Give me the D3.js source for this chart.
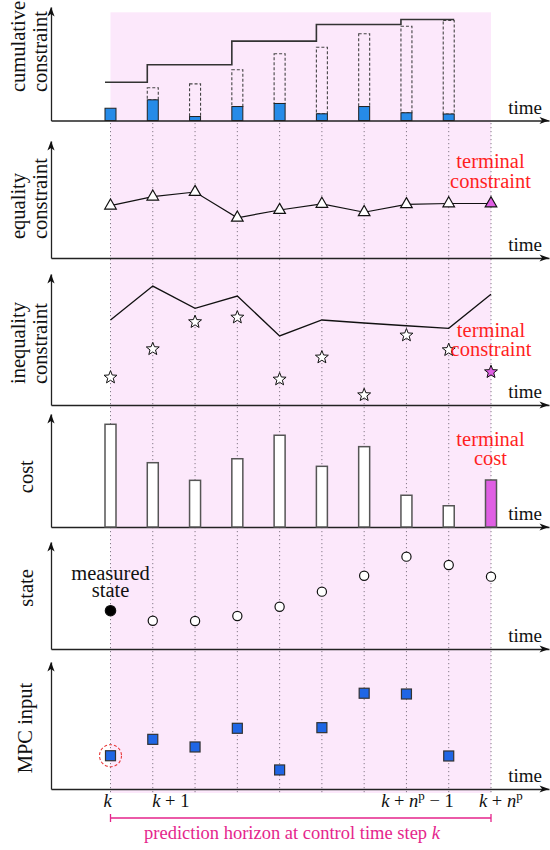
<!DOCTYPE html>
<html>
<head>
<meta charset="utf-8">
<script src="https://cdn.jsdelivr.net/npm/d3@7"></script>
<style>
body { margin: 0; background: #fff; }
text { font-family: "Liberation Serif", "DejaVu Serif", serif; fill: #111; }
</style>
</head>
<body>
<svg width="550" height="850"></svg>
<script>
// time steps k ... k + n^p
var steps = [0, 1, 2, 3, 4, 5, 6, 7, 8, 9];

// cumulative constraint panel (steps 0..8)
var usage = [10.8, 18.2, 3.5, 12.3, 15.0, 5.9, 12.3, 6.8, 5.7];
var usageTotal = [10.8, 28.8, 32.3, 44.7, 58.8, 64.6, 76.4, 83.1, 88.1];
var limitStart = [0, 1, 3, 5, 7];
var limitLevel = [33.7, 49.1, 69.9, 84.6, 89.0];

var equality = [44.7, 52.4, 56.4, 34.4, 41.0, 46.2, 39.1, 45.9, 46.6, 46.6];
var ineqBound = [64.9, 90.8, 73.8, 83.2, 52.7, 64.9, 62.6, 60.5, 58.5, 84.5];
var ineqValue = [21.1, 42.7, 63.4, 66.9, 19.6, 36.4, 7.6, 53.2, 42.0, 25.2];
var cost = [90.9, 56.9, 41.3, 60.4, 81.2, 53.7, 71.1, 28.1, 18.8, 41.6];
var state = [35.8, 26.4, 26.2, 30.8, 39.5, 53.6, 68.5, 86.3, 78.5, 67.6];
var mpcInput = [26.2, 39.1, 33.1, 47.8, 15.0, 48.3, 75.4, 74.8, 26.0];

var yLabels = [['cumulative', 'constraint'], ['equality', 'constraint'], ['inequality', 'constraint'],
               ['cost'], ['state'], ['MPC input']];
var tickLabels = ['k', 'k + 1', 'k + n^p \u2212 1', 'k + n^p'];
var tickSteps = [0, 1, 8, 9];
var horizonText = 'prediction horizon at control time step ';

var svg = d3.select('svg');

var panels = [
    {axis: 120.5, tip: 7},
    {axis: 258, tip: 141},
    {axis: 405, tip: 274},
    {axis: 527, tip: 414},
    {axis: 649, tip: 542},
    {axis: 789, tip: 662}
];

var x = d3.scaleLinear().domain([0, 9]).range([110.5, 491]);
var xAxisScale = d3.scaleLinear().domain([0, 1]).range([51, 549]);
var yScales = panels.map(function(p) {
    return d3.scaleLinear().domain([0, 100]).range([p.axis, p.tip]);
});

var barW = 11;
var pink = '#fce8fb', magenta = '#df5fe3', blue = '#268be8', red = '#ff1f1f';

// horizon band and step guides
svg.append('rect')
    .attr('x', x(0)).attr('y', 12.3)
    .attr('width', x(9) - x(0)).attr('height', 793 - 12.3)
    .attr('fill', pink);

svg.selectAll('.guide')
    .data(steps)
    .enter()
    .append('line')
    .attr('class', 'guide')
    .attr('x1', function(d) { return x(d); })
    .attr('x2', function(d) { return x(d); })
    .attr('y1', 123).attr('y2', 793)
    .attr('stroke', '#857a88')
    .attr('stroke-width', 1)
    .attr('stroke-dasharray', '1.2,2.8');

// axes with arrow heads
panels.forEach(function(p, i) {
    var g = svg.append('g');
    g.append('g')
        .attr('transform', 'translate(51,0)')
        .call(d3.axisLeft(yScales[i]).tickValues([]).tickSizeOuter(0))
        .select('.domain').attr('stroke', '#222').attr('stroke-width', 1.3);
    g.append('g')
        .attr('transform', 'translate(0,' + p.axis + ')')
        .call(d3.axisBottom(xAxisScale).tickValues([]).tickSizeOuter(0))
        .select('.domain').attr('stroke', '#222').attr('stroke-width', 1.3);
    g.append('path')
        .attr('d', 'M51,' + p.tip + 'l-3.6,9.5l3.6,-2.6l3.6,2.6z')
        .attr('fill', '#111');
    g.append('path')
        .attr('d', 'M549,' + p.axis + 'l-9.5,-3.6l2.6,3.6l-2.6,3.6z')
        .attr('fill', '#111');
    g.append('text')
        .attr('x', 542).attr('y', p.axis - 7)
        .attr('text-anchor', 'end')
        .attr('font-size', 19)
        .text('time');
});

// y labels
var labelEnd = [92, 239, 384];
var labelMid = [476.7, 588, 728];
var singleBase = [33, 33, 31.5];
yLabels.forEach(function(lines, i) {
    if (lines.length == 2) {
        lines.forEach(function(t, j) {
            svg.append('text')
                .attr('transform', 'translate(' + (j == 0 ? 24.5 : 46.5) + ',' + labelEnd[i] + ') rotate(-90)')
                .attr('text-anchor', 'start')
                .attr('font-size', 20.5)
                .text(t);
        });
    } else {
        svg.append('text')
            .attr('transform', 'translate(' + singleBase[i - 3] + ',' + labelMid[i - 3] + ') rotate(-90)')
            .attr('text-anchor', 'middle')
            .attr('font-size', 20.5)
            .text(lines[0]);
    }
});

// panel 1: cumulative constraint
var y0 = yScales[0];
var g1 = svg.append('g');
g1.selectAll('.total')
    .data(usageTotal.slice(1))
    .enter()
    .append('rect')
    .attr('x', function(d, i) { return x(i + 1) - barW / 2; })
    .attr('y', function(d) { return y0(d); })
    .attr('width', barW)
    .attr('height', function(d, i) { return y0(usage[i + 1]) - y0(d); })
    .attr('fill', 'none')
    .attr('stroke', '#444')
    .attr('stroke-width', 1.1)
    .attr('stroke-dasharray', '3,2');
g1.selectAll('.use')
    .data(usage)
    .enter()
    .append('rect')
    .attr('x', function(d, i) { return x(i) - barW / 2; })
    .attr('y', function(d) { return y0(d); })
    .attr('width', barW)
    .attr('height', function(d) { return y0(0) - y0(d); })
    .attr('fill', blue)
    .attr('stroke', '#222')
    .attr('stroke-width', 1);

var limitPts = limitStart.map(function(s, i) { return [x(s) - barW / 2, y0(limitLevel[i])]; });
limitPts.push([x(8) + barW / 2, y0(limitLevel[limitLevel.length - 1])]);
g1.append('path')
    .attr('d', d3.line().curve(d3.curveStepAfter)(limitPts))
    .attr('fill', 'none')
    .attr('stroke', '#333')
    .attr('stroke-width', 1.6);

// panel 2: equality constraint
var y1 = yScales[1];
svg.append('path')
    .attr('d', d3.line().x(function(d, i) { return x(i); }).y(function(d) { return y1(d); })(equality))
    .attr('fill', 'none').attr('stroke', '#111').attr('stroke-width', 1.2);
svg.selectAll('.tri')
    .data(equality)
    .enter()
    .append('path')
    .attr('transform', function(d, i) { return 'translate(' + x(i) + ',' + y1(d) + ')'; })
    .attr('d', d3.symbol().type(d3.symbolTriangle).size(58))
    .attr('fill', function(d, i) { return i == 9 ? magenta : '#fff'; })
    .attr('stroke', '#111').attr('stroke-width', 1.2);

// panel 3: inequality constraint
function starPath(r1, r2) {
    var pts = [];
    for (var i = 0; i < 10; i++) {
        var a = -Math.PI / 2 + i * Math.PI / 5;
        var r = i % 2 ? r2 : r1;
        pts.push([r * Math.cos(a), r * Math.sin(a)]);
    }
    return 'M' + pts.join('L') + 'Z';
}
var y2 = yScales[2];
svg.append('path')
    .attr('d', d3.line().x(function(d, i) { return x(i); }).y(function(d) { return y2(d); })(ineqBound))
    .attr('fill', 'none').attr('stroke', '#111').attr('stroke-width', 1.3);
svg.selectAll('.star')
    .data(ineqValue)
    .enter()
    .append('path')
    .attr('transform', function(d, i) { return 'translate(' + x(i) + ',' + y2(d) + ')'; })
    .attr('d', starPath(6.8, 2.9))
    .attr('fill', function(d, i) { return i == 9 ? magenta : '#fff'; })
    .attr('stroke', '#111').attr('stroke-width', 1);

// panel 4: cost
var y3 = yScales[3];
svg.selectAll('.cost')
    .data(cost)
    .enter()
    .append('rect')
    .attr('x', function(d, i) { return x(i) - barW / 2; })
    .attr('y', function(d) { return y3(d); })
    .attr('width', barW)
    .attr('height', function(d) { return y3(0) - y3(d); })
    .attr('fill', function(d, i) { return i == 9 ? magenta : '#fff'; })
    .attr('stroke', '#555')
    .attr('stroke-width', 1.5);

// panel 5: state
var y4 = yScales[4];
svg.selectAll('.state')
    .data(state)
    .enter()
    .append('circle')
    .attr('cx', function(d, i) { return x(i); })
    .attr('cy', function(d) { return y4(d); })
    .attr('r', function(d, i) { return i == 0 ? 5.2 : 4.6; })
    .attr('fill', function(d, i) { return i == 0 ? '#000' : '#fff'; })
    .attr('stroke', '#111').attr('stroke-width', 1.2);

// panel 6: MPC input
var y5 = yScales[5];
svg.selectAll('.input')
    .data(mpcInput)
    .enter()
    .append('rect')
    .attr('x', function(d, i) { return x(i) - 5; })
    .attr('y', function(d) { return y5(d) - 5; })
    .attr('width', 10).attr('height', 10)
    .attr('fill', '#1f66e5')
    .attr('stroke', '#333').attr('stroke-width', 1.2);
svg.append('circle')
    .attr('cx', x(0)).attr('cy', y5(mpcInput[0]))
    .attr('r', 11)
    .attr('fill', 'none')
    .attr('stroke', '#e83a3a').attr('stroke-width', 1.1)
    .attr('stroke-dasharray', '3,2');

// annotations
function twoLines(lines, cx, base1, base2, color) {
    [base1, base2].forEach(function(b, i) {
        svg.append('text')
            .attr('x', cx).attr('y', b)
            .attr('text-anchor', 'middle')
            .attr('font-size', 20.5)
            .style('fill', color)
            .text(lines[i]);
    });
}
twoLines(['terminal', 'constraint'], 490.5, 168, 187.5, red);
twoLines(['terminal', 'constraint'], 491, 337, 356, red);
twoLines(['terminal', 'cost'], 490.5, 446, 464.5, red);
twoLines(['measured', 'state'], 110.5, 579.5, 597, '#111');

// tick labels: italic k and n, upright superscript p
function richText(sel, str) {
    var re = /\^p|[kn]|[^kn\^]+/g, m, shift = 0;
    while ((m = re.exec(str))) {
        var tok = m[0];
        var t = sel.append('tspan');
        if (tok == '^p') {
            t.attr('dy', -7).attr('font-size', 13).text('p');
            shift = 7;
            continue;
        }
        if (shift) { t.attr('dy', shift); shift = 0; }
        if (tok == 'k' || tok == 'n') t.attr('font-style', 'italic');
        t.text(tok);
    }
}
var tickAnchor = ['middle', 'start', 'end', 'start'];
var tickShift = [-3, -0.5, 5, -12];
tickLabels.forEach(function(s, i) {
    var t = svg.append('text')
        .attr('x', x(tickSteps[i]) + tickShift[i])
        .attr('y', 806.5)
        .attr('text-anchor', tickAnchor[i])
        .attr('font-size', 18.5);
    richText(t, s);
});

// prediction horizon bracket
var hz = '#e5258c';
svg.append('path')
    .attr('d', 'M' + x(0) + ',814v8M' + x(0) + ',818H' + x(9) + 'M' + x(9) + ',814v8')
    .attr('fill', 'none').attr('stroke', hz).attr('stroke-width', 1.3);
var ht = svg.append('text')
    .attr('x', 292).attr('y', 839)
    .attr('text-anchor', 'middle')
    .attr('font-size', 18.5)
    .style('fill', hz);
ht.append('tspan').text(horizonText);
ht.append('tspan').attr('font-style', 'italic').text('k');
</script>
</body>
</html>
